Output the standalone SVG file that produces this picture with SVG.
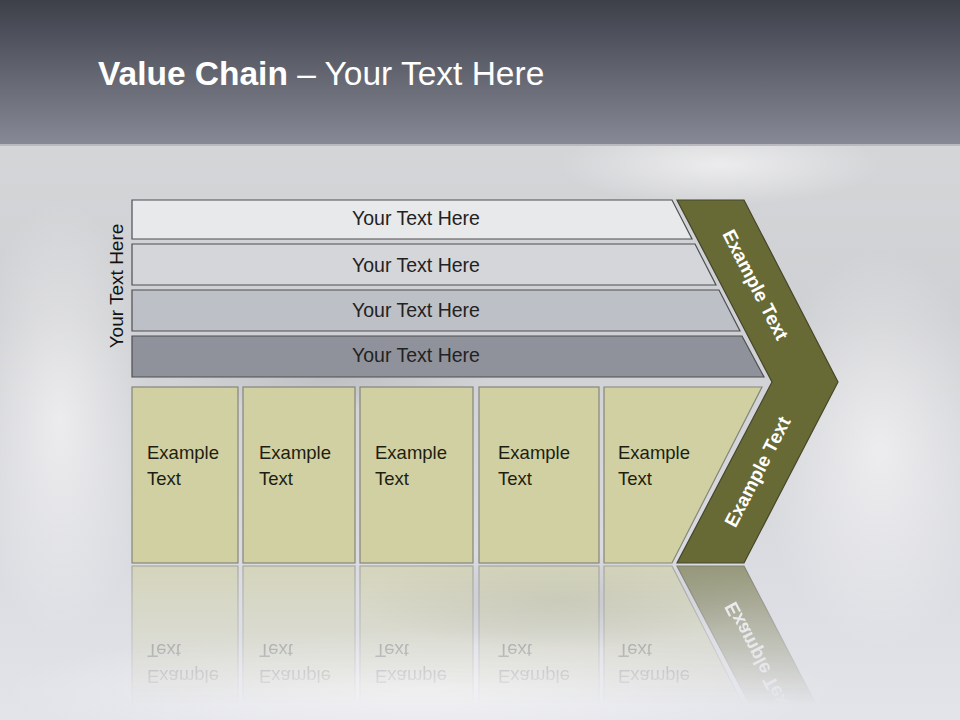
<svg xmlns="http://www.w3.org/2000/svg" xmlns:xlink="http://www.w3.org/1999/xlink" width="960" height="720" viewBox="0 0 960 720">
<defs>
  <linearGradient id="hdr" x1="0" y1="0" x2="0" y2="1">
    <stop offset="0" stop-color="#3d4049"/>
    <stop offset="1" stop-color="#878a96"/>
  </linearGradient>
  <linearGradient id="bg" x1="0" y1="0" x2="0" y2="1">
    <stop offset="0" stop-color="#d9dadc"/>
    <stop offset="0.45" stop-color="#cfd0d3"/>
    <stop offset="1" stop-color="#e3e4ea"/>
  </linearGradient>
  <radialGradient id="cloud" cx="0.5" cy="0.5" r="0.5">
    <stop offset="0" stop-color="#ffffff" stop-opacity="0.55"/>
    <stop offset="1" stop-color="#ffffff" stop-opacity="0"/>
  </radialGradient>
  <radialGradient id="shade" cx="0.5" cy="0.5" r="0.5">
    <stop offset="0" stop-color="#a9abb0" stop-opacity="0.45"/>
    <stop offset="1" stop-color="#a9abb0" stop-opacity="0"/>
  </radialGradient>
  <linearGradient id="fade" gradientUnits="userSpaceOnUse" x1="0" y1="565" x2="0" y2="705">
    <stop offset="0" stop-color="#fff" stop-opacity="0.6"/>
    <stop offset="1" stop-color="#fff" stop-opacity="0"/>
  </linearGradient>
  <mask id="refmask" maskUnits="userSpaceOnUse" x="0" y="560" width="960" height="160">
    <rect x="0" y="560" width="960" height="160" fill="url(#fade)"/>
  </mask>
  <style>
    .bar { stroke: #4e4f52; stroke-width: 1.2; }
    .bt { font-family: "Liberation Sans", Arial, sans-serif; font-size: 19.5px; fill: #222; text-anchor: middle; }
    .box { fill: #d0d0a3; stroke: #858578; stroke-width: 1.2; }
    .ex { font-family: "Liberation Sans", Arial, sans-serif; font-size: 18.5px; fill: #1e1e10; }
    .chev { fill: #686a35; stroke: #45462a; stroke-width: 1.2; }
    .ct { font-family: "Liberation Sans", Arial, sans-serif; font-size: 19px; font-weight: bold; fill: #ffffff; text-anchor: middle; }
  </style>
</defs>

<!-- background -->
<rect x="0" y="0" width="960" height="720" fill="url(#bg)"/>
<ellipse cx="720" cy="165" rx="160" ry="40" fill="url(#cloud)"/>
<ellipse cx="420" cy="690" rx="420" ry="60" fill="url(#cloud)"/>
<ellipse cx="880" cy="450" rx="120" ry="200" fill="url(#cloud)"/>
<ellipse cx="60" cy="420" rx="90" ry="220" fill="url(#cloud)"/>
<ellipse cx="330" cy="380" rx="160" ry="30" fill="url(#shade)"/>
<ellipse cx="560" cy="600" rx="200" ry="50" fill="url(#shade)"/>

<!-- header -->
<rect x="0" y="0" width="960" height="145" fill="url(#hdr)"/>
<rect x="0" y="144" width="960" height="2" fill="#b8bac0"/>
<text x="98" y="85" font-family="'Liberation Sans', Arial, sans-serif" font-size="33.5" fill="#ffffff"><tspan font-weight="bold">Value Chain</tspan> – Your Text Here</text>

<!-- side label -->
<g id="side-label">
  <text transform="translate(123,286) rotate(-90)" font-family="'Liberation Sans', Arial, sans-serif" font-size="19" fill="#111" text-anchor="middle">Your Text Here</text>
</g>

<!-- bars -->
<g id="bar1">
  <polygon class="bar" points="132,200 672,200 692,239 132,239" fill="#e8e9eb"/>
  <text class="bt" x="416" y="225">Your Text Here</text>
</g>
<g id="bar2">
  <polygon class="bar" points="132,244 695,244 716,285 132,285" fill="#d5d6d9"/>
  <text class="bt" x="416" y="272">Your Text Here</text>
</g>
<g id="bar3">
  <polygon class="bar" points="132,290 719,290 740,331 132,331" fill="#bdc0c6"/>
  <text class="bt" x="416" y="317">Your Text Here</text>
</g>
<g id="bar4">
  <polygon class="bar" points="132,336 742,336 764,377 132,377" fill="#8f929a"/>
  <text class="bt" x="416" y="362">Your Text Here</text>
</g>

<!-- bottom row (boxes + chevron) -->
<g id="bottomRow">
  <g id="box1">
    <rect class="box" x="132" y="387" width="106" height="176"/>
    <text class="ex" x="147" y="459">Example</text>
    <text class="ex" x="147" y="485">Text</text>
  </g>
  <g id="box2">
    <rect class="box" x="243" y="387" width="112" height="176"/>
    <text class="ex" x="259" y="459">Example</text>
    <text class="ex" x="259" y="485">Text</text>
  </g>
  <g id="box3">
    <rect class="box" x="360" y="387" width="113" height="176"/>
    <text class="ex" x="375" y="459">Example</text>
    <text class="ex" x="375" y="485">Text</text>
  </g>
  <g id="box4">
    <rect class="box" x="479" y="387" width="120" height="176"/>
    <text class="ex" x="498" y="459">Example</text>
    <text class="ex" x="498" y="485">Text</text>
  </g>
  <g id="box5">
    <polygon class="box" points="604,387 762,387 672,563 604,563"/>
    <text class="ex" x="618" y="459">Example</text>
    <text class="ex" x="618" y="485">Text</text>
  </g>
  <g id="chevron">
    <polygon class="chev" points="677,200 744,200 838,382 744,563 677,563 772,382"/>
    <text class="ct" transform="translate(755,285) rotate(62.7)" y="6">Example Text</text>
    <text class="ct" transform="translate(758,472) rotate(-62.7)" y="6">Example Text</text>
  </g>
</g>

<!-- reflection -->
<g id="reflection" mask="url(#refmask)">
  <use xlink:href="#bottomRow" href="#bottomRow" transform="translate(0,1129) scale(1,-1)"/>
</g>
</svg>
